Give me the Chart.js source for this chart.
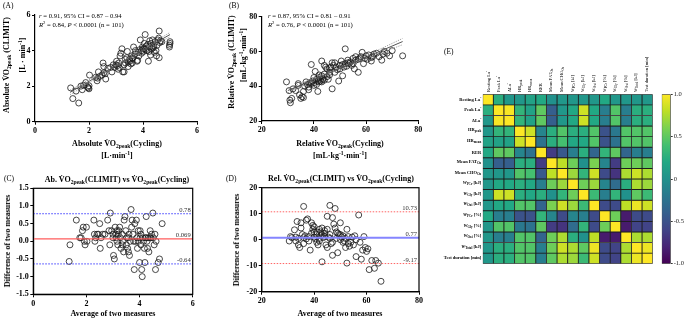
<!DOCTYPE html>
<html><head><meta charset="utf-8"><title>VO2peak agreement and correlation matrix</title>
<script src="https://cdn.jsdelivr.net/npm/chart.js@4.4.1/dist/chart.umd.min.js"></script>
<style>
html,body{margin:0;padding:0;background:#fff;}
#root{position:relative;width:685px;height:321px;overflow:hidden;background:#fff;font-family:'Liberation Serif','Times New Roman',serif;color:#000;}
.cv{position:absolute;}
.t{position:absolute;white-space:nowrap;line-height:1;}
.c{transform:translate(-50%,-50%);}
.r{transform:translate(-50%,-50%) rotate(-90deg);}
.b{font-weight:bold;}
.s8{font-size:8px;}
.sb{font-size:5.6px;vertical-align:-1.6px;}
.sp{font-size:5.6px;vertical-align:3px;}
.an{font-size:6.7px;}
.an .sp{font-size:4.6px;vertical-align:2.5px;}
.pl{font-size:7.5px;}
.hr{font-size:4.5px;font-weight:bold;}
.hc{font-size:4.6px;}
.hs{font-size:3.2px;vertical-align:-0.9px;}
.hp{font-size:3.2px;vertical-align:1.8px;}
</style></head><body><div id="root">
<canvas class="cv" id="cA" width="215" height="140" style="left:0;top:0"></canvas>
<canvas class="cv" id="cB" width="210" height="140" style="left:225px;top:0"></canvas>
<canvas class="cv" id="cC" width="215" height="160" style="left:0;top:160px"></canvas>
<canvas class="cv" id="cD" width="210" height="160" style="left:225px;top:160px"></canvas>
<canvas class="cv" id="cE" width="180" height="180" style="left:480px;top:90px"></canvas>
<canvas class="cv" id="cF" width="30" height="190" style="left:655px;top:85px"></canvas>

<div class="t pl" style="left:3px;top:2px">(A)</div>
<div class="t an" style="left:39px;top:13px"><i>r</i> = 0.91, 95% CI = 0.87 – 0.94</div>
<div class="t an" style="left:39px;top:21px"><i>R</i><span class="sp">2</span> = 0.84, <i>P</i> &lt; 0.0001 (n = 101)</div>
<div class="t b s8 r" style="left:8px;top:65px">Absolute V&#775;O<span class="sb">2peak</span> (CLIMIT)</div>
<div class="t b s8 r" style="left:22px;top:55px">[L · min<span class="sp">-1</span>]</div>
<div class="t b s8 c" style="left:117px;top:145px">Absolute V&#775;O<span class="sb">2peak</span>(Cycling)</div>
<div class="t b s8 c" style="left:117px;top:155px">[L·min<span class="sp">-1</span>]</div>

<div class="t pl" style="left:229px;top:2px">(B)</div>
<div class="t an" style="left:268px;top:13px"><i>r</i> = 0.87, 95% CI = 0.81 – 0.91</div>
<div class="t an" style="left:268px;top:21px"><i>R</i><span class="sp">2</span> = 0.76, <i>P</i> &lt; 0.0001 (n = 101)</div>
<div class="t b s8 r" style="left:233px;top:62px">Relative V&#775;O<span class="sb">2peak</span> (CLIMIT)</div>
<div class="t b s8 r" style="left:243px;top:55px">[mL·kg<span class="sp">-1</span>·min<span class="sp">-1</span>]</div>
<div class="t b s8 c" style="left:340px;top:145px">Relative V&#775;O<span class="sb">2peak</span>(Cycling)</div>
<div class="t b s8 c" style="left:340px;top:155px">[mL·kg<span class="sp">-1</span>·min<span class="sp">-1</span>]</div>

<div class="t pl" style="left:4px;top:175px">(C)</div>
<div class="t b s8 c" style="left:117px;top:181px">Ab. V&#775;O<span class="sb">2peak</span>(CLIMIT) vs V&#775;O<span class="sb">2peak</span>(Cycling)</div>
<div class="t b s8 r" style="left:8px;top:241px">Difference of two measures</div>
<div class="t b s8 c" style="left:113px;top:314px">Average of two measures</div>

<div class="t pl" style="left:226px;top:175px">(D)</div>
<div class="t b s8 c" style="left:341px;top:180px">Rel. V&#775;O<span class="sb">2peak</span>(CLIMIT) vs V&#775;O<span class="sb">2peak</span>(Cycling)</div>
<div class="t b s8 r" style="left:237px;top:240px">Difference of two measures</div>
<div class="t b s8 c" style="left:340px;top:314px">Average of two measures</div>

<div class="t pl" style="left:444px;top:48px">(E)</div>
</div>
<script>
// ---------------- DATA ----------------
// (A) absolute VO2peak
const aCycling = [1.32,1.40,1.62,1.52,1.70,1.75,1.80,1.88,1.98,2.00,2.02,1.95,2.30,2.32,2.35,2.48,2.52,2.55,2.62,2.55,2.70,2.80,2.85,2.90,2.95,3.00,3.02,3.08,3.10,3.15,3.18,3.22,3.25,3.30,3.30,3.35,3.40,3.42,3.45,3.50,3.52,3.55,3.58,3.60,3.62,3.65,3.70,3.72,3.78,3.80,3.82,3.85,3.88,3.90,3.95,3.98,4.00,4.02,4.05,4.08,4.10,4.12,4.15,4.18,4.20,4.22,4.25,4.28,4.30,4.32,4.35,4.38,4.40,4.42,4.45,4.48,4.50,4.52,4.55,4.58,4.60,4.60,4.62,4.65,4.70,4.98,5.00,5.00,4.98,3.05,3.12,3.45,2.40,2.25,3.60,3.95,4.05,4.25,2.60,3.35,2.00];
const aClimit  = [1.90,1.30,1.05,1.72,2.00,1.80,2.05,2.20,1.90,2.02,2.62,1.95,2.30,2.45,2.80,2.62,3.30,3.10,2.40,2.75,3.00,3.05,2.80,3.20,3.05,3.20,3.40,2.95,3.30,3.70,3.85,4.10,2.80,2.80,3.20,3.50,3.60,3.95,3.35,3.50,3.40,3.25,3.70,3.30,3.55,4.20,3.80,4.00,3.40,3.45,3.90,3.70,4.05,4.60,4.00,4.20,4.10,3.95,4.10,4.90,4.05,4.25,4.00,4.35,3.40,3.95,4.20,3.75,4.40,4.10,4.60,4.15,4.25,3.90,4.50,4.00,3.70,4.30,4.60,4.70,3.60,5.10,4.45,4.55,4.50,4.20,4.40,4.50,4.30,3.15,3.05,3.10,2.55,2.50,3.60,3.85,4.40,4.55,2.70,3.30,1.85];
const aFitX  = [1.3, 2.0, 2.8, 3.5, 4.2, 5.0];
const aFitY  = [1.65, 2.27, 2.97, 3.58, 4.20, 4.90];
const aFitUp = [1.78, 2.36, 3.02, 3.63, 4.27, 5.02];
const aFitLo = [1.52, 2.18, 2.92, 3.53, 4.13, 4.78];

// (B) relative VO2peak
const bCycling = [29.5,30.5,30.8,31,31.5,32,33,34,34,34.5,35,35.5,36,36,36.5,37,37.5,38,38.5,39,39,39.5,40,40,40.5,41,41,41.5,41.5,42,42,42.5,42.5,43,43,43,43.5,44,44,44.5,45,45,45.5,46,46,46.5,47,47,47.5,48,48.5,49,49.5,50,50,50.5,51,51,51.5,52,52,52.5,53,53.5,54,54.5,55,55.5,56,56,57,57,57.5,58,58.5,59,59.5,60,60.5,61,62,62,62.5,63,64,65,66,66.5,67,68,69,70,74,55,48,44,38,40,42,46,53];
const bClimit  = [42.5,37.5,32,30.5,33,38.5,37.5,41.5,40.5,35,33,34,33.5,37,40,42.5,41,39.5,42,52.5,41.5,43,42,45,48.5,44,41,37,43,45,42.5,44,43,54.5,46,42.5,44,43.5,47,51,50,45.5,44,46.5,50.5,51,38.5,53.5,52,48,51,49.5,43,50,52,54.5,46,52.5,51,61.5,53,51.5,55,53,54,52,53,50,57,55,48,55.5,56,57,59.5,53,56,57.5,55.5,58,56.5,54.5,57,58.5,59,57,55,58.5,60,59,57.5,60.5,57.5,56,53.5,52,38,40.5,46.5,48,53.5];
const bFitX  = [30, 40, 50, 60, 74];
const bFitY  = [37.5, 43.9, 50.3, 56.7, 65.7];
const bFitUp = [38.8, 44.6, 50.8, 57.6, 67.5];
const bFitLo = [36.2, 43.2, 49.8, 55.8, 63.9];

// (C) Bland-Altman, absolute
const cAvg  = [1.35,1.38,1.62,1.75,1.80,1.85,1.88,1.92,1.95,2.00,2.02,2.28,2.30,2.32,2.35,2.40,2.50,2.52,2.55,2.62,2.80,2.85,2.88,2.90,2.95,3.00,3.02,3.05,3.08,3.10,3.12,3.15,3.18,3.20,3.25,3.28,3.30,3.35,3.38,3.40,3.42,3.45,3.48,3.50,3.52,3.55,3.58,3.60,3.62,3.65,3.68,3.70,3.72,3.75,3.80,3.82,3.85,3.88,3.90,3.92,3.95,4.00,4.02,4.05,4.05,4.08,4.10,4.12,4.15,4.18,4.20,4.22,4.25,4.28,4.30,4.32,4.35,4.38,4.40,4.42,4.45,4.50,4.52,4.55,4.58,4.60,4.62,4.70,4.75,4.85,3.00,3.22,3.58,3.78,4.02,2.45,3.35,3.95,4.25,3.15,2.70];
const cDiff = [-0.57,-0.10,0.60,0.10,0.10,0.30,0.40,0.00,-0.10,0.40,0.00,0.60,0.20,0.00,0.10,0.20,0.50,-0.20,0.10,0.20,0.60,0.30,-0.10,0.80,0.30,0.20,-0.40,-0.50,0.40,0.20,0.10,0.00,-0.10,0.20,0.40,0.10,-0.20,0.20,0.00,-0.30,0.60,0.70,0.30,-0.10,0.10,-0.20,-0.30,0.20,-0.40,0.00,0.90,0.40,0.60,0.20,-0.80,0.50,0.00,0.60,0.10,-0.20,0.00,-0.60,0.30,-0.10,0.20,-0.80,-1.00,0.10,0.00,-0.20,-0.60,0.10,0.70,0.00,-0.20,0.10,-0.30,0.10,0.30,0.10,0.20,0.80,0.10,-0.10,0.20,-0.80,0.00,-0.60,-0.50,0.50,0.10,0.30,0.10,0.00,0.10,0.20,-0.10,0.30,0.10,0.30,0.20];
const cLimits = [0.78, 0.069, -0.64];
const cLimitLabels = ['0.78', '0.069', '-0.64'];

// (D) Bland-Altman, relative
const dAvg  = [30.5,31,31.5,32.5,33,33.5,34,34,34.5,35,35,35.5,36,36,36.5,37,37,37.5,38,38.5,39,39,39.5,39.5,40,40,40.5,41,41,41.5,42,42,42.5,42.5,43,43,43,43.5,44,44,44.5,45,45,45.5,46,46,46.5,47,47,47.5,48,48,48.5,48.5,49,49,50,50,50.5,51,51.5,52,52,52.5,52.5,53,53.5,54,54.5,55,56,56,57,57.5,58,58.5,59,59.5,60,60.5,61,62,63,63.5,64.5,65.5,38,41,44,46,50,53,55.5,40,42,47,49.5,36,45,51,33];
const dDiff = [-0.5,1.2,0.8,3.8,1.0,7.0,-2.0,0.5,-3.0,4.5,6.5,2.0,12.8,0.8,1.5,7.5,0.3,8.0,1.2,-4.0,6.5,2.5,5.5,4.0,3.0,1.0,0.3,-1.0,2.0,-2.0,4.0,0.5,1.5,3.0,-8.5,4.5,2.0,0.8,3.5,1.2,-2.0,9.0,-3.0,1.0,13.2,2.0,-1.5,-6.0,8.5,6.0,12.0,4.5,0.5,3.0,-5.0,2.5,6.5,0.0,1.0,-1.0,-0.5,-3.0,0.5,-9.0,4.0,1.2,-2.5,-1.0,1.0,-2.0,-6.5,0.0,9.5,-1.0,-7.5,-4.0,1.2,-3.0,-4.5,-3.5,-11.5,-8.0,-11.0,-8.0,-9.0,-16.0,-0.5,3.0,2.5,0.5,2.0,-1.5,1.5,5.0,-0.5,-1.0,2.0,-1.5,4.0,1.5,-0.5];
const dLimits = [10.73, 0.77, -9.17];
const dLimitLabels = ['10.73', '0.77', '-9.17'];

// (E) correlation matrix
const varNames = ['Resting La^{-}','Peak La^{-}','ΔLa^{-}','HR_{peak}','HR_{mean}','RER','Mean FAT_{Ox}','Mean CHO_{Ox}','W_{PCr} [kJ]','W_{Gly} [kJ]','W_{Oxi} [kJ]','W_{PCr} [%]','W_{Gly} [%]','W_{Oxi} [%]','W_{Total} [kJ]','Test duration [min]'];
const rRestLa  = [1.00,0.25,0.05,0.05,0.15,0.20,0.00,0.05,0.05,0.05,0.05,0.20,0.05,0.05,0.05,0.05];
const rPeakLa  = [0.25,1.00,0.98,0.30,0.15,0.50,-0.40,0.05,0.20,0.85,0.20,-0.15,0.45,-0.15,0.25,0.25];
const rDeltaLa = [0.05,0.98,1.00,0.30,0.15,0.50,-0.40,0.05,0.20,0.85,0.20,-0.15,0.45,-0.15,0.25,0.25];
const rHRpeak  = [0.05,0.30,0.30,1.00,0.85,-0.10,0.25,0.45,0.25,0.25,0.45,-0.50,-0.20,0.45,0.45,0.45];
const rHRmean  = [0.15,0.15,0.15,0.85,1.00,-0.25,0.25,0.40,0.20,0.20,0.45,-0.50,-0.25,0.45,0.45,0.45];
const rRER     = [0.20,0.50,0.50,-0.10,-0.25,1.00,-0.65,-0.45,-0.15,0.25,-0.35,0.30,0.50,-0.35,-0.15,-0.15];
const rFAT     = [0.00,-0.40,-0.40,0.25,0.25,-0.65,1.00,0.80,0.55,0.00,0.60,-0.10,-0.65,0.55,0.55,0.50];
const rCHO     = [0.05,0.05,0.05,0.45,0.40,-0.45,0.80,1.00,0.70,0.30,0.85,-0.55,-0.70,0.75,0.85,0.75];
const rWPCrKJ  = [0.05,0.20,0.20,0.25,0.20,-0.15,0.55,0.70,1.00,0.55,0.70,-0.10,-0.30,0.25,0.75,0.70];
const rWGlyKJ  = [0.05,0.85,0.85,0.25,0.20,0.25,0.00,0.30,0.55,1.00,0.35,-0.15,0.30,0.00,0.50,0.35];
const rWOxKJ   = [0.05,0.20,0.20,0.45,0.45,-0.35,0.60,0.85,0.70,0.35,1.00,-0.55,-0.55,0.80,0.95,0.85];
const rWPCrPct = [0.20,-0.15,-0.15,-0.50,-0.50,0.30,-0.10,-0.55,-0.10,-0.15,-0.55,1.00,0.55,-0.85,-0.55,-0.55];
const rWGlyPct = [0.05,0.45,0.45,-0.20,-0.25,0.50,-0.65,-0.70,-0.30,0.30,-0.55,0.55,1.00,-0.85,-0.60,-0.60];
const rWOxPct  = [0.05,-0.15,-0.15,0.45,0.45,-0.35,0.55,0.75,0.25,0.00,0.80,-0.85,-0.85,1.00,0.75,0.75];
const rWTotal  = [0.05,0.25,0.25,0.45,0.45,-0.15,0.55,0.85,0.75,0.50,0.95,-0.55,-0.60,0.75,1.00,0.95];
const rTestDur = [0.05,0.25,0.25,0.45,0.45,-0.15,0.50,0.75,0.70,0.35,0.85,-0.55,-0.60,0.75,0.95,1.00];
const corrRows = [rRestLa,rPeakLa,rDeltaLa,rHRpeak,rHRmean,rRER,rFAT,rCHO,rWPCrKJ,rWGlyKJ,rWOxKJ,rWPCrPct,rWGlyPct,rWOxPct,rWTotal,rTestDur];
const cbRange = [-1, 1];
const cbTickValues = [1, 0.5, 0, -0.5, -1];
const cbTickLabels = ['1.0', '0.5', '0', '-0.5', '-1.0'];

// ---------------- STYLE / HELPERS ----------------
const SERIF = "'Liberation Serif','Times New Roman',serif";
const VIRIDIS = [[68,1,84],[72,36,117],[65,68,135],[53,95,141],[42,120,142],[33,145,140],[34,168,132],[68,191,112],[122,209,81],[189,223,38],[253,231,37]];
function viridis(t){
  t = Math.max(0, Math.min(1, t));
  const p = t * 10, i = Math.min(9, Math.floor(p)), f = p - i;
  const a = VIRIDIS[i], b = VIRIDIS[i+1];
  return 'rgb(' + [0,1,2].map(k => Math.round(a[k] + (b[k]-a[k]) * f)).join(',') + ')';
}
function pts(xs, ys){ return xs.map((x, i) => ({x: x, y: ys[i]})); }

function axisOpts(a, fit){
  const o = {type:'linear', min:a.min, max:a.max, afterFit:fit,
    ticks:{stepSize:a.step, color:'#000', font:{family:SERIF, size:8, weight:'bold'}, padding:1.5, maxRotation:0, autoSkip:false},
    grid:{display:true, drawOnChartArea:false, drawTicks:true, tickLength:3, tickColor:'#000', tickWidth:1, color:'#000', lineWidth:1},
    border:{display:true, color:'#000', width:1.2}};
  if (a.fmt) o.ticks.callback = a.fmt;
  return o;
}
const circles = (xs, ys) => ({data:pts(xs, ys), pointRadius:3, pointBorderWidth:0.8, pointBorderColor:'#1a1a1a', pointBackgroundColor:'rgba(255,255,255,0)', showLine:false, clip:false, order:2});
const line = (xs, ys, color, width, dash) => ({data:pts(xs, ys), showLine:true, pointRadius:0, borderColor:color, backgroundColor:color, borderWidth:width, borderDash:dash || [], clip:false, cubicInterpolationMode:'monotone', order:1});
const hline = (x0, x1, v, color, width, dash) => ({data:[{x:x0, y:v}, {x:x1, y:v}], showLine:true, pointRadius:0, borderColor:color, backgroundColor:color, borderWidth:width, borderDash:dash || [], clip:false, order:1});

const baLabelsPlugin = {id:'baLabels', afterDatasetsDraw(chart, args, opts){
  if (!opts || !opts.values) return;
  const ctx = chart.ctx, a = chart.chartArea, y = chart.scales.y;
  ctx.save(); ctx.font = '6.6px ' + SERIF; ctx.fillStyle = '#333'; ctx.textAlign = 'right'; ctx.textBaseline = 'alphabetic';
  opts.values.forEach((v, i) => ctx.fillText(opts.labels[i], a.right - 2, y.getPixelForValue(v) - 2));
  ctx.restore();
}};
const framePlugin = {id:'frame', afterDraw(chart){
  const ctx = chart.ctx, a = chart.chartArea;
  ctx.save(); ctx.strokeStyle = '#000'; ctx.lineWidth = 1.2;
  ctx.strokeRect(a.left, a.top, a.right - a.left, a.bottom - a.top); ctx.restore();
}};

function panel(id, conf){
  return new Chart(document.getElementById(id), {
    type:'scatter',
    data:{datasets:conf.datasets},
    options:{responsive:false, animation:false, events:[],
      layout:{autoPadding:false, padding:conf.pad},
      plugins:{legend:{display:false}, tooltip:{enabled:false},
        baLabels: conf.ba ? conf.ba : false, frame: conf.frame ? {} : false},
      scales:{x:axisOpts(conf.x, s => { s.height = conf.xh; }), y:axisOpts(conf.y, s => { s.width = conf.yw; })}},
    plugins:[baLabelsPlugin, framePlugin]});
}

// ---------------- PANELS ----------------
panel('cA', {
  datasets:[circles(aCycling, aClimit), line(aFitX, aFitY, '#555', 1), line(aFitX, aFitUp, '#888', 0.8, [1.2,1.2]), line(aFitX, aFitLo, '#888', 0.8, [1.2,1.2])],
  x:{min:0, max:6, step:2}, y:{min:0, max:6, step:2},
  pad:{left:0, top:15, right:18, bottom:0}, xh:18.3, yw:35
});
panel('cB', {
  datasets:[circles(bCycling, bClimit), line(bFitX, bFitY, '#555', 1), line(bFitX, bFitUp, '#888', 0.8, [1.2,1.2]), line(bFitX, bFitLo, '#888', 0.8, [1.2,1.2])],
  x:{min:20, max:80, step:20}, y:{min:20, max:80, step:20},
  pad:{left:0, top:16.7, right:16.7, bottom:0}, xh:19, yw:36.7
});
panel('cC', {
  datasets:[circles(cAvg, cDiff),
    hline(0, 6, cLimits[0], '#3b3bff', 1, [1.5,1.5]),
    hline(0, 6, cLimits[1], '#ff5c5c', 1.2),
    hline(0, 6, cLimits[2], '#3b3bff', 1, [1.5,1.5])],
  x:{min:0, max:6, step:2}, y:{min:-1.5, max:1.5, step:0.5, fmt:v => v.toFixed(1)},
  pad:{left:0, top:28.3, right:22.3, bottom:0}, xh:25.7, yw:33.3,
  ba:{values:cLimits, labels:cLimitLabels}, frame:true
});
panel('cD', {
  datasets:[circles(dAvg, dDiff),
    hline(20, 80, dLimits[0], '#ff6464', 1, [1.5,1.5]),
    hline(20, 80, dLimits[1], '#8585ff', 2),
    hline(20, 80, dLimits[2], '#ff6464', 1, [1.5,1.5])],
  x:{min:20, max:80, step:20}, y:{min:-20, max:20, step:10},
  pad:{left:0, top:27.7, right:16, bottom:0}, xh:28.3, yw:36.7,
  ba:{values:dLimits, labels:dLimitLabels}, frame:true
});

// heatmap (floating bars = cells)
const heat = new Chart(document.getElementById('cE'), {
  type:'bar',
  data:{labels:varNames, datasets:corrRows.map((row, i) => ({
    data: row.map(() => [i, i + 1]),
    backgroundColor: row.map(v => viridis((v + 1) / 2)),
    borderColor:'#1e1e1e', borderWidth:0.8, borderSkipped:false,
    barPercentage:1, categoryPercentage:1, grouped:false }))},
  options:{responsive:false, animation:false, events:[],
    layout:{autoPadding:false, padding:{left:2.7, top:4.3, right:7.3, bottom:6.3}},
    plugins:{legend:{display:false}, tooltip:{enabled:false}},
    scales:{x:{display:false}, y:{display:false, min:0, max:varNames.length, reverse:true}}}
});

// colour bar
new Chart(document.getElementById('cF'), {
  type:'bar',
  data:{labels:[''], datasets:[{data:[cbRange],
    backgroundColor(ctx){ const ch = ctx.chart, a = ch.chartArea; if (!a) return viridis(0.5);
      const g = ch.ctx.createLinearGradient(0, a.bottom, 0, a.top);
      VIRIDIS.forEach((c, i) => g.addColorStop(i / 10, 'rgb(' + c.join(',') + ')')); return g; },
    borderColor:'#333', borderWidth:0.8, borderSkipped:false, barPercentage:1, categoryPercentage:1}]},
  options:{responsive:false, animation:false, events:[],
    layout:{autoPadding:false, padding:{left:6.7, top:9.3, right:0, bottom:11.3}},
    plugins:{legend:{display:false}, tooltip:{enabled:false}},
    scales:{x:{display:false},
      y:{position:'right', min:cbRange[0], max:cbRange[1], afterFit:s => { s.width = 14.3; },
        ticks:{stepSize:0.5, color:'#222', font:{family:SERIF, size:6.5}, padding:1,
          callback:v => { const k = cbTickValues.findIndex(t => Math.abs(t - v) < 1e-9); return k < 0 ? '' : cbTickLabels[k]; }},
        grid:{drawOnChartArea:false, drawTicks:true, tickLength:2, tickColor:'#333'},
        border:{display:false}}}}
});

// heatmap axis labels placed from the chart's scales
function labelHtml(s){
  return s.replace(/^W_/, '<i>W</i>_')
          .replace(/_\{([^}]*)\}/g, '<span class="hs">$1</span>')
          .replace(/\^\{([^}]*)\}/g, '<span class="hp">$1</span>');
}
(function(){
  const root = document.getElementById('root');
  const L = 480, T = 90, a = heat.chartArea, xs = heat.scales.x, ys = heat.scales.y;
  varNames.forEach((name, i) => {
    const d = document.createElement('div');
    d.className = 't hr'; d.innerHTML = labelHtml(name);
    d.style.right = (685 - (L + a.left - 1.5)) + 'px';
    d.style.top = (T + ys.getPixelForValue(i + 0.5)) + 'px';
    d.style.transform = 'translateY(-50%)';
    root.appendChild(d);
    const c = document.createElement('div');
    c.className = 't hc'; c.innerHTML = labelHtml(name);
    c.style.left = (L + xs.getPixelForValue(i) - 2.3) + 'px';
    c.style.top = (T + a.top - 2) + 'px';
    c.style.transformOrigin = '0 0'; c.style.transform = 'rotate(-90deg)';
    root.appendChild(c);
  });
})();
</script>
</body></html>
